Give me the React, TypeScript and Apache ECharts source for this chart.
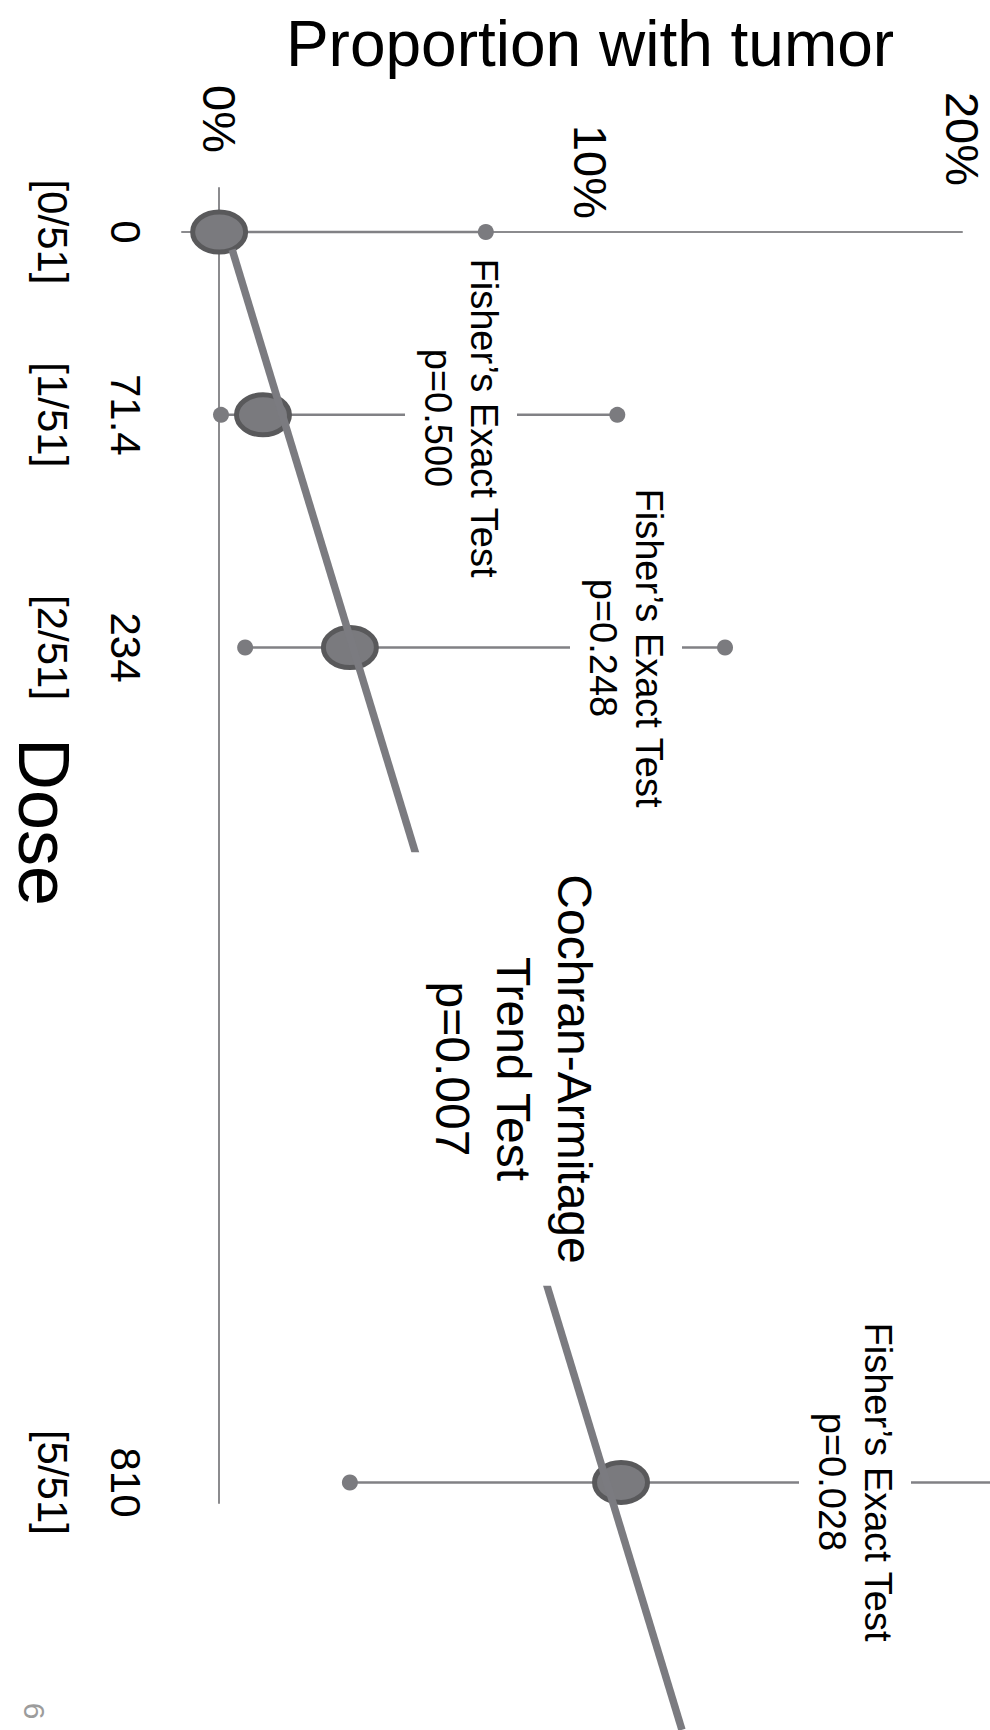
import React, { useEffect, useRef } from 'react';
import * as echarts from 'echarts';

// ---- data ----
const doses = ['0', '71.4', '234', '810'];
const tumorCounts = ['[0/51]', '[1/51]', '[2/51]', '[5/51]'];
// where each dose group sits along the drawn (not-to-scale) dose axis
const doseRowPosition = [0, 1.87, 4.25, 12.79];
// proportion with tumor (%) as drawn, with its interval ends
const proportionPct = [0, 1.18, 3.52, 10.82];
const ciLowerPct = [0, 0.05, 0.7, 3.52];
const ciUpperPct = [7.18, 10.72, 13.62, 21.4];
const fisherP = ['', '0.500', '0.248', '0.028'];
const trendTestP = '0.007';
const percentTicks = [0, 10, 20];
// fitted trend line, [proportion %, dose-axis position]
const trendLinePoints = [
  [0.35, 0.18],
  [12.46, 15.32],
];

// ---- layout (pixels) ----
const FONT = '"Liberation Sans", Arial, Helvetica, sans-serif';
const fisherBoxAt = [null, { x: 461, y: 418 }, { x: 626, y: 648 }, { x: 855, y: 1482 }];

export default function App() {
  const ref = useRef<HTMLDivElement>(null);

  useEffect(() => {
    if (!ref.current) return;
    const chart = echarts.init(ref.current, null, { renderer: 'svg' });
    const axisGray = '#8b8b8e';
    const markGray = '#7a7a7e';
    const ROT = -Math.PI / 2;

    const fisherTexts: any[] = [];
    fisherP.forEach((p, i) => {
      const at = fisherBoxAt[i];
      if (!p || !at) return;
      fisherTexts.push({
        type: 'text',
        x: at.x,
        y: at.y,
        rotation: ROT,
        z: 100,
        style: {
          text: `Fisher\u2019s Exact Test\np=${p}`,
          fontFamily: FONT,
          fontSize: 38,
          lineHeight: 46,
          fill: '#000',
          align: 'center',
          verticalAlign: 'middle',
          backgroundColor: '#fff',
          padding: [10, 4],
        },
      });
    });

    const richBase = { fontSize: 47, fontFamily: FONT, color: '#000' };

    const option: any = {
      animation: false,
      backgroundColor: '#ffffff',
      grid: {
        left: 182,
        right: 28,
        top: 188,
        bottom: 227,
        containLabel: false,
        outerBoundsMode: 'none',
      },
      xAxis: {
        type: 'value',
        position: 'top',
        min: -1,
        max: 20,
        axisLine: { show: true, onZero: true, lineStyle: { color: axisGray, width: 2 } },
        axisTick: { show: false },
        splitLine: { show: false },
        axisLabel: {
          customValues: percentTicks,
          showMinLabel: true,
          showMaxLabel: true,
          rotate: -90,
          margin: -31,
          fontSize: 47,
          fontFamily: FONT,
          color: '#000',
          formatter: (v: number) => `{t${v}|${v}%}`,
          rich: {
            t0: { ...richBase, padding: [0, 66, 0, 0] },
            t10: { ...richBase },
            t20: { ...richBase, padding: [0, 33, 0, 0] },
          },
        },
      },
      yAxis: {
        type: 'value',
        inverse: true,
        min: -0.45,
        max: 13,
        axisLine: { show: true, onZero: true, lineStyle: { color: axisGray, width: 2 } },
        axisTick: { show: false },
        splitLine: { show: false },
        axisLabel: {
          customValues: doseRowPosition,
          showMinLabel: true,
          showMaxLabel: true,
          rotate: -90,
          margin: 20,
          fontSize: 42,
          lineHeight: 73,
          fontFamily: FONT,
          color: '#000',
          formatter: (v: number) => {
            const i = doseRowPosition.findIndex((p) => Math.abs(p - v) < 1e-6);
            return i < 0 ? '' : `${doses[i]}\n${tumorCounts[i]}`;
          },
        },
      },
      series: [
        {
          type: 'custom',
          clip: false,
          z: 2,
          silent: true,
          dimensions: ['prop', 'pos', 'lo', 'hi'],
          encode: { x: 0, y: 1 },
          data: doseRowPosition.map((p, i) => [proportionPct[i], p, ciLowerPct[i], ciUpperPct[i]]),
          renderItem: (params: any, api: any) => {
            const prop = api.value(0);
            const pos = api.value(1);
            const lo = api.value(2);
            const hi = api.value(3);
            const c = api.coord([prop, pos]);
            const l = api.coord([lo, pos]);
            const h = api.coord([hi, pos]);
            const children: any[] = [
              {
                type: 'line',
                shape: { x1: l[0], y1: l[1], x2: h[0], y2: h[1] },
                style: { stroke: '#818185', lineWidth: 2.5 },
              },
              { type: 'circle', shape: { cx: h[0], cy: h[1], r: 8 }, style: { fill: '#7b7b7f' } },
            ];
            if (lo < prop) {
              children.push({ type: 'circle', shape: { cx: l[0], cy: l[1], r: 8 }, style: { fill: '#7b7b7f' } });
            }
            children.push({
              type: 'ellipse',
              shape: { cx: c[0], cy: c[1], rx: 26.5, ry: 20 },
              style: { fill: markGray, stroke: '#59595b', lineWidth: 5 },
            });
            return { type: 'group', children };
          },
        },
        {
          type: 'line',
          data: trendLinePoints,
          symbol: 'none',
          clip: false,
          silent: true,
          z: 3,
          lineStyle: { color: '#7b7b80', width: 7.5, cap: 'butt' },
        },
      ],
      graphic: {
        elements: [
          {
            type: 'text',
            x: 590,
            y: 44,
            z: 100,
            style: {
              text: 'Proportion with tumor',
              fontFamily: FONT,
              fontSize: 64,
              fill: '#000',
              align: 'center',
              verticalAlign: 'middle',
            },
          },
          {
            type: 'text',
            x: 44,
            y: 822,
            rotation: ROT,
            z: 100,
            style: {
              text: 'Dose',
              fontFamily: FONT,
              fontSize: 72,
              fill: '#000',
              align: 'center',
              verticalAlign: 'middle',
            },
          },
          ...fisherTexts,
          {
            type: 'text',
            x: 513,
            y: 1069,
            rotation: ROT,
            z: 100,
            style: {
              text: `Cochran-Armitage\nTrend Test\np=${trendTestP}`,
              fontFamily: FONT,
              fontSize: 48,
              lineHeight: 61,
              fill: '#000',
              align: 'center',
              verticalAlign: 'middle',
              backgroundColor: '#fff',
              padding: [12, 22],
            },
          },
          {
            type: 'text',
            x: 34,
            y: 1711,
            rotation: ROT,
            z: 100,
            style: {
              text: '6',
              fontFamily: FONT,
              fontSize: 30,
              fill: '#9c9c9c',
              align: 'center',
              verticalAlign: 'middle',
            },
          },
        ],
      },
    };

    chart.setOption(option);
    return () => chart.dispose();
  }, []);

  return (
    <div
      ref={ref}
      style={{ position: 'fixed', left: 0, top: 0, width: 990, height: 1730, background: '#fff' }}
    />
  );
}
